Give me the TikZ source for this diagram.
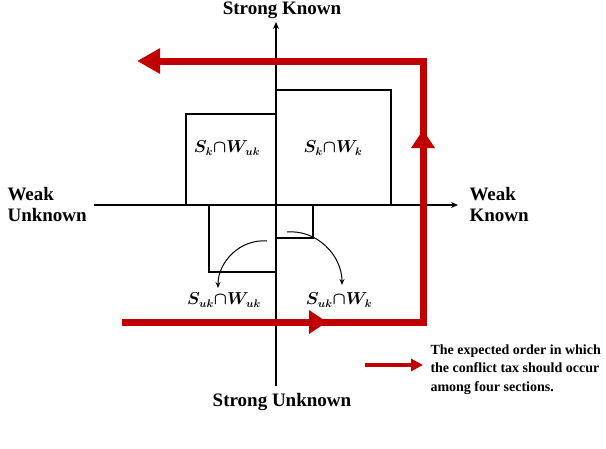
\documentclass[tikz,border=0pt]{standalone}
\usepackage{fontspec}
\setmainfont{Liberation Serif}
\usepackage{bm}
\usetikzlibrary{arrows.meta}
\definecolor{dred}{HTML}{C00000}
\begin{document}
\begin{tikzpicture}[x=1pt,y=-1pt,
  axislbl/.style={font=\fontsize{19}{21}\selectfont\bfseries},
  setlbl/.style={font=\fontsize{16}{18}\selectfont},
  boxline/.style={draw=black,line width=1.3pt},
  axisline/.style={draw=black,line width=1.3pt,-{Stealth[length=7pt,width=6pt]}},
  curvearrow/.style={draw=black,line width=1pt,-{Stealth[length=6pt,width=5pt]}},
  redline/.style={draw=dred,line width=7pt,line join=miter},
  redtip/.style={fill=dred,draw=none}]
\useasboundingbox (0,0) rectangle (606,448);
% axes
\coordinate (vb) at (276,386);
\coordinate (vt) at (276,22);
\coordinate (hl) at (94,205);
\coordinate (hr) at (458,205);
% boxes
\draw[boxline] (186,114) rectangle (276,205);
\draw[boxline] (276,90) rectangle (391,205);
\draw[boxline] (209,205) rectangle (276,272);
\draw[boxline] (276,205) rectangle (313,238);
\draw[axisline] (vb) -- (vt);
\draw[axisline] (hl) -- (hr);
% axis labels
\node[axislbl] (sk) at (282,10) {Strong Known};
\node[axislbl] (su) at (282,402) {Strong Unknown};
\node[axislbl,anchor=west,align=left] (wu) at (4,204) {Weak\\Unknown};
\node[axislbl,anchor=west,align=left] (wk) at (466,204) {Weak\\Known};
% set labels
\node[setlbl] (a) at (227,148) {$\bm{S_{k}{\cap}W_{uk}}$};
\node[setlbl] (b) at (333,148) {$\bm{S_{k}{\cap}W_{k}}$};
\node[setlbl] (c) at (224,300) {$\bm{S_{uk}{\cap}W_{uk}}$};
\node[setlbl] (d) at (339,300) {$\bm{S_{uk}{\cap}W_{k}}$};
% curved arrows
\coordinate (c1s) at (267,241);
\coordinate (c1e) at (218,288);
\coordinate (c2s) at (287,232);
\coordinate (c2e) at (342,285);
\draw[curvearrow] (c1s) to[out=175,in=90] (c1e);
\draw[curvearrow] (c2s) to[out=5,in=90] (c2e);
% red path
\coordinate (r0) at (122,322);
\coordinate (r1) at (423,322);
\coordinate (r2) at (423,61);
\coordinate (r3) at (137,61);
\draw[redline,-{Triangle[length=23pt,width=24pt]}] (r0) -- (r1) -- (r2) -- (r3);
\fill[redtip] (327,322) -- (309,310) -- (309,334) -- cycle;
\fill[redtip] (423,130) -- (411,148) -- (435,148) -- cycle;
% legend
\coordinate (l0) at (365,365);
\coordinate (l1) at (423,365);
\draw[draw=dred,line width=4pt,-{Triangle[length=12pt,width=12pt]}] (l0) -- (l1);
\node[anchor=north west,align=left,font=\fontsize{14}{18.5}\selectfont\bfseries] (leg) at (427,341) {The expected order in which\\the conflict tax should occur\\among four sections.};
\end{tikzpicture}
\end{document}
